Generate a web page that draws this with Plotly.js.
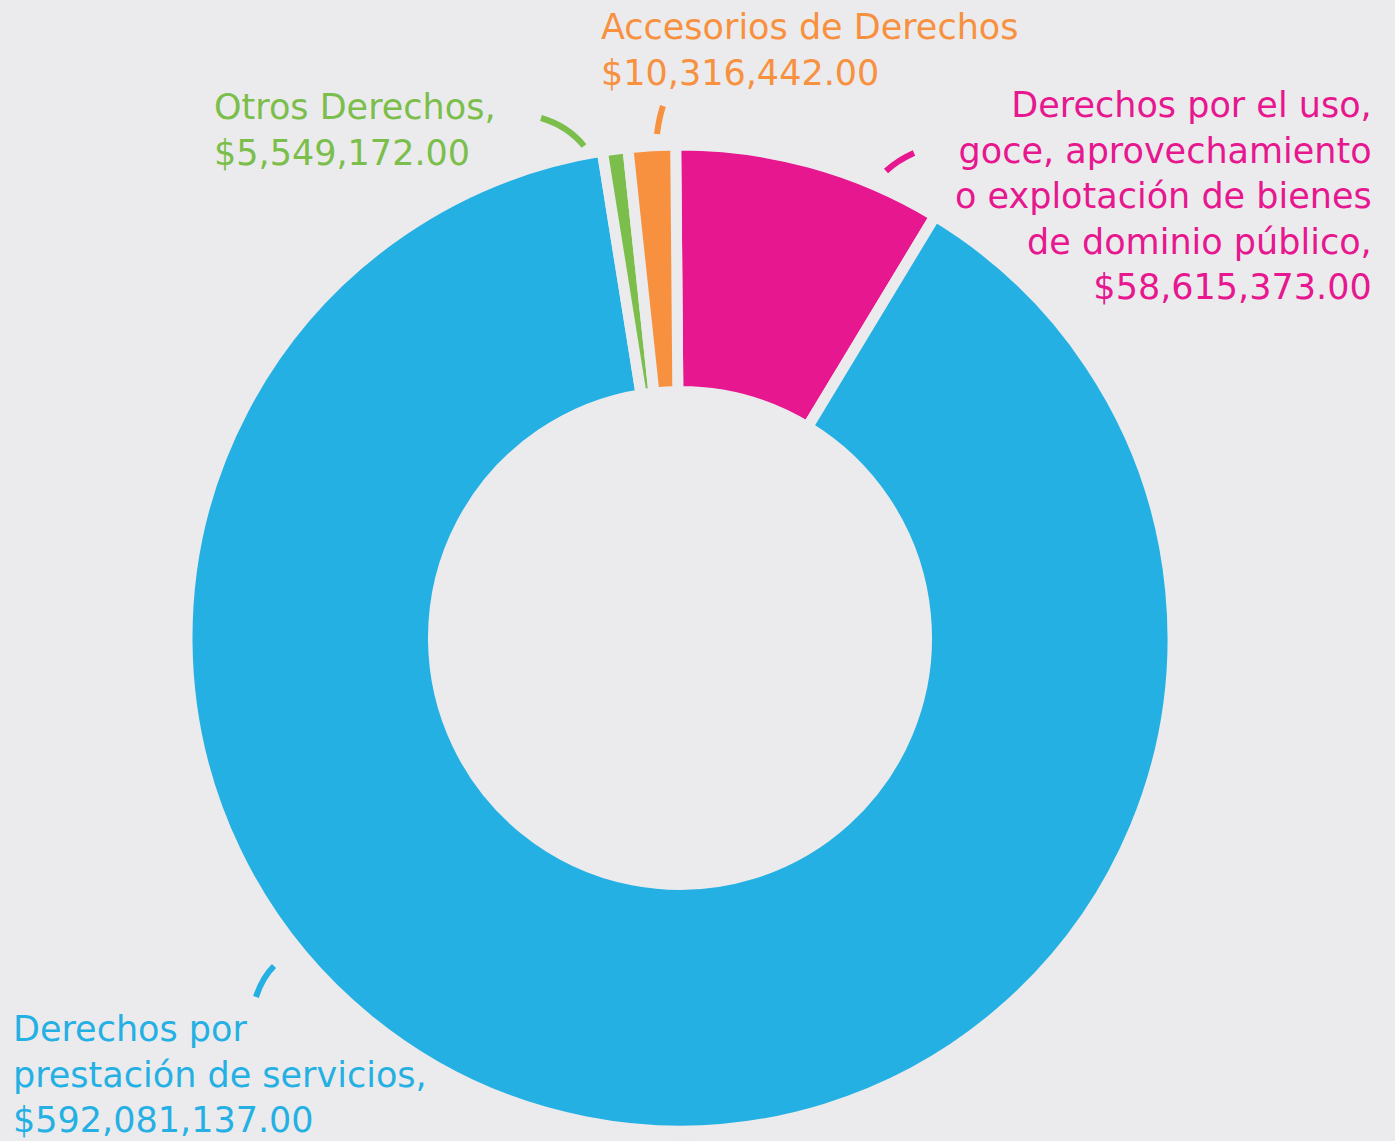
<!DOCTYPE html>
<html>
<head>
<meta charset="utf-8">
<script src="https://cdn.plot.ly/plotly-3.0.1.min.js"></script>
<style>
  html, body { margin: 0; padding: 0; background: #EBEBED; }
  #chart { width: 1395px; height: 1141px; }
</style>
</head>
<body>
<div id="chart"></div>
<script>
// slices in clockwise order from 12 o'clock
const categories = [
    "Derechos por el uso, goce, aprovechamiento o explotación de bienes de dominio público",
    "Derechos por prestación de servicios",
    "Otros Derechos",
    "Accesorios de Derechos"
];
const amounts = [58615373, 592081137, 5549172, 10316442];
const sliceColors = ["#E6178F", "#25B0E4", "#7BBE4B", "#F7913F"];

// label text, one entry per line
const labelLines = [
    ["Derechos por el uso,", "goce, aprovechamiento", "o explotación de bienes", "de dominio público,", "$58,615,373.00"],
    ["Derechos por", "prestación de servicios,", "$592,081,137.00"],
    ["Otros Derechos,", "$5,549,172.00"],
    ["Accesorios de Derechos", "$10,316,442.00"]
];

const bg = "#EBEBED";
const W = 1395, H = 1141;

// label anchors (pixels) and leader lines
const labelPos = [
    { x: 1374, y: 83, anchor: "right" },
    { x: 11, y: 1007, anchor: "left" },
    { x: 212, y: 85, anchor: "left" },
    { x: 599, y: 5, anchor: "left" }
];
const leaders = [
    "M 886 171 Q 898 160 914 153",
    "M 256 997 Q 262 978 274 966",
    "M 541 118 Q 568 126 584 146",
    "M 657 134 Q 659 118 663 106"
];

const pie = {
    type: "pie",
    labels: categories,
    values: amounts,
    sort: false,
    direction: "clockwise",
    rotation: -0.5,
    hole: 0.5,
    textinfo: "none",
    hoverinfo: "label+value",
    marker: { colors: sliceColors, line: { color: bg, width: 11 } },
    domain: { x: [187 / W, 1173 / W], y: [(H - 1131) / H, (H - 145) / H] }
};

const annotations = labelLines.map((lines, i) => ({
    xref: "x", yref: "y",
    x: labelPos[i].x, y: labelPos[i].y,
    xanchor: labelPos[i].anchor, yanchor: "top",
    align: labelPos[i].anchor,
    showarrow: false,
    text: lines.join("<br>"),
    font: { family: "DejaVu Sans", size: 35, color: sliceColors[i] }
}));

const shapes = leaders.map((p, i) => ({
    type: "path", xref: "x", yref: "y", path: p,
    line: { color: sliceColors[i], width: 6 }
}));

const layout = {
    width: W, height: H,
    margin: { t: 0, r: 0, b: 0, l: 0 },
    paper_bgcolor: bg,
    plot_bgcolor: "rgba(0,0,0,0)",
    showlegend: false,
    xaxis: { range: [0, W], visible: false, fixedrange: true },
    yaxis: { range: [H, 0], visible: false, fixedrange: true },
    annotations: annotations,
    shapes: shapes
};

Plotly.newPlot("chart", [pie], layout, { displayModeBar: false, staticPlot: true });
</script>
</body>
</html>
